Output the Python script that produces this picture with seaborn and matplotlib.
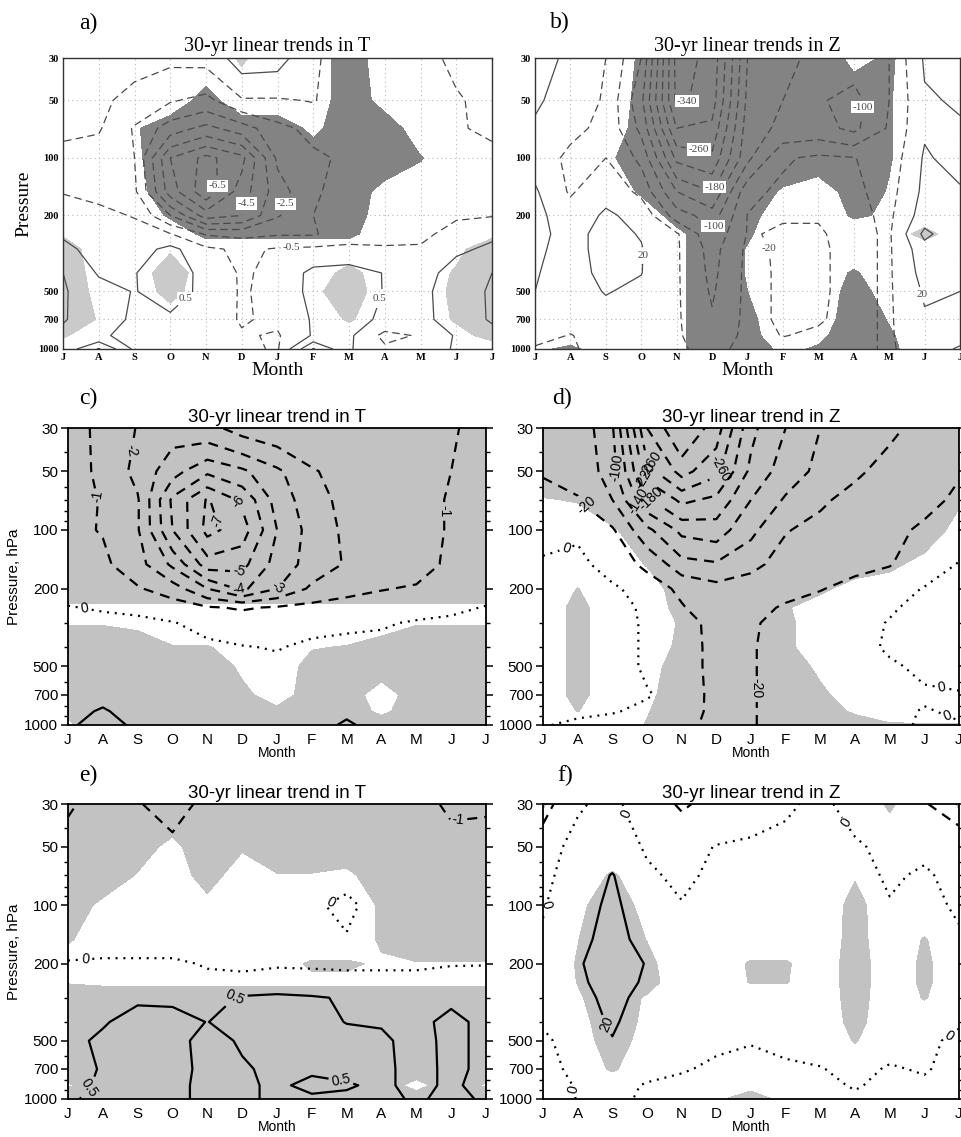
import numpy as np
import matplotlib
matplotlib.use("Agg")
import matplotlib.pyplot as plt
import seaborn as sns
from matplotlib.ticker import FixedLocator, NullFormatter, NullLocator, FuncFormatter

MONTHS = ['J', 'A', 'S', 'O', 'N', 'D', 'J', 'F', 'M', 'A', 'M', 'J', 'J']
LEVELS = [30, 50, 70, 100, 150, 200, 250, 300, 400, 500, 700, 850, 1000]
P_TICKS = [30, 50, 100, 200, 500, 700, 1000]
P_MINOR = [40, 60, 70, 80, 90, 300, 400, 600, 800, 900]

# ---- a) 30-yr linear trends in T (K), rows = LEVELS, cols = MONTHS
T_A = [
    [0.0, -0.1, -0.2, -0.3, -0.2, 1.0, 0.9, -0.3, -1.2, -0.9, -0.8, -0.3, 0.0],
    [-0.2, -0.3, -0.8, -1.4, -1.8, -0.6, -0.6, -0.45, -1.0, -0.9, -0.8, -0.6, -0.2],
    [-0.3, -0.4, -1.6, -3.0, -3.8, -3.0, -1.8, -1.2, -1.0, -1.0, -0.9, -0.6, -0.3],
    [-0.8, -1.0, -1.5, -5.5, -6.8, -5.8, -2.3, -1.7, -1.3, -1.0, -0.8, -0.7, -0.8],
    [-0.55, -0.7, -1.3, -5.0, -7.2, -5.0, -3.0, -1.6, -1.2, -0.8, -0.7, -0.6, -0.55],
    [0.0, -0.3, -0.55, -2.5, -5.0, -4.5, -2.6, -1.5, -0.9, -0.8, -0.7, -0.6, -0.55],
    [0.4, 0.0, -0.2, -0.45, -1.6, -1.8, -1.6, -1.6, -0.9, -0.8, -0.7, -0.2, 0.3],
    [0.7, 0.2, 0.0, 0.8, -0.3, -0.7, -0.4, -0.3, -0.3, -0.4, -0.4, 0.3, 0.7],
    [1.5, 0.4, 0.45, 1.2, 0.1, -0.6, -0.3, 0.8, 1.0, 0.45, 0.0, 1.0, 1.5],
    [1.6, 0.9, 0.45, 1.0, 0.2, -0.6, -0.2, 0.8, 1.1, 0.45, 0.2, 1.1, 1.6],
    [1.6, 0.8, 0.4, 0.3, 0.1, -0.6, -0.3, 0.6, 0.9, 0.3, 0.2, 1.0, 1.6],
    [1.2, 0.6, 0.3, 0.2, 0.1, -0.4, -0.6, 0.6, 0.7, -0.8, -0.4, 0.6, 1.2],
    [0.8, 2.6, 0.3, 0.4, 0.1, -0.3, -0.6, 2.6, 0.6, -0.3, 0.0, 0.6, 0.8],
]
SIG_A = [
    [0, 0, 0, 0, 0, 0.6, 0, 0, -1, 0, 0, 0, 0],
    [0, 0, 0, 0, -0.8, 0, 0, 0, -1, -0.2, 0, 0, 0],
    [0, 0, -0.4, -1, -1, -1, -1, -0.3, -1, -1, 0, 0, 0],
    [0, 0, -0.35, -1, -1, -1, -1, -1, -1, -1, -0.55, 0, 0],
    [0, 0, -0.2, -1, -1, -1, -1, -1, -1, -0.2, 0, 0, 0],
    [0, 0, 0, -0.6, -1, -1, -1, -1, -1, 0, 0, 0, 0],
    [0.4, 0, 0, 0, -0.7, -0.7, -0.7, -0.7, -0.7, 0, 0, 0, 0.3],
    [1, 0, 0, 0.4, 0, 0, 0, 0, 0, 0, 0, 0.3, 1],
    [1, 0.2, 0, 1, 0, 0, 0, 0, 0.8, 0, 0, 0.6, 1],
    [1, 0.3, 0, 0.8, 0, 0, 0, 0.3, 1, 0, 0, 0.7, 1],
    [1, 0.45, 0, 0, 0, 0, 0, 0, 0.6, 0, 0, 0.6, 1],
    [0.6, 0, 0, 0, 0, 0, 0, 0, 0, 0, 0, 0.2, 0.8],
    [0, 0, 0, 0, 0, 0, 0, 0, 0, 0, 0, 0, 0],
]

# ---- b) 30-yr linear trends in Z (m)
Z_B = [
    [30, 15, -20, -100, -355, -330, -140, -110, -90, -80, -60, 25, 30],
    [25, 5, -25, -130, -350, -320, -130, -100, -95, -115, -60, 15, 25],
    [15, -10, -30, -110, -300, -290, -120, -90, -85, -110, -55, 15, 15],
    [5, -30, -20, -70, -230, -250, -110, -25, -12, -18, -45, 25, 5],
    [25, -25, 10, -30, -140, -180, -30, -12, -8, -12, -35, 30, 25],
    [30, 0, 25, 10, -80, -120, -19, -18, -18, -10, -28, 40, 30],
    [28, 10, 30, 18, -15, -90, -18, -23, -23, -10, -25, 70, 28],
    [25, 10, 30, 22, -15, -75, -12, -25, -25, -10, -25, 45, 25],
    [22, 8, 28, 21, -15, -70, -10, -25, -25, -10, -25, 35, 22],
    [20, 5, 22, 12, -15, -65, -10, -25, -25, -10, -25, 25, 20],
    [10, -5, 5, 5, -15, -55, -10, -25, -23, -10, -25, 15, 10],
    [-5, -22, 0, 0, -15, -45, -10, -21, -15, -10, -25, 10, -5],
    [-25, -25, -5, 0, -15, -30, -10, -10, -10, -10, -25, 0, -25],
]
SIG_B = [
    [0, 0, 0, -0.6, -1, -1, -1, -1, -1, -0.3, -0.6, 0, 0],
    [0, 0, 0, -0.7, -1, -1, -1, -1, -1, -1, -0.55, 0, 0],
    [0, 0, 0, -0.8, -1, -1, -1, -1, -1, -1, -0.55, 0, 0],
    [0, 0, -0.3, -1, -1, -1, -1, -1, -1, -1, -0.55, 0, 0],
    [0, 0, 0, -0.6, -1, -1, -1, -0.4, 0, -0.9, -0.45, 0, 0],
    [0, 0, 0, 0, -0.8, -1, -0.8, 0, 0, -0.6, -0.4, 0, 0],
    [0, 0, 0, 0, -0.3, -1, -0.6, 0, 0, 0, 0, 0.8, 0],
    [0, 0, 0, 0, -0.3, -1, -0.45, 0, 0, 0, 0, 0, 0],
    [0, 0, 0, 0, -0.3, -1, -0.45, 0, 0, -0.6, 0, 0, 0],
    [0, 0, 0, 0, -0.3, -1, -0.5, 0, 0, -0.8, -0.2, 0, 0],
    [0, 0, 0, 0, -0.3, -1, -0.7, 0, 0, -1, -0.45, 0, 0],
    [0, 0, 0, 0, -0.3, -1, -0.8, 0, -0.3, -1, -0.6, 0, 0],
    [-0.3, -0.7, 0, 0, -0.3, -1, -1, -0.3, -0.6, -1, -0.7, 0, 0],
]

# ---- c) 30-yr linear trend in T
T_C = [
    [-0.5, -1.3, -2.05, -2.6, -2.3, -1.6, -1.3, -1.2, -1.1, -1.1, -1.1, -1.15, -0.5],
    [-0.6, -1.2, -2.3, -3.6, -4.8, -4.2, -3.2, -2.1, -1.6, -1.3, -1.2, -1.0, -0.6],
    [-0.7, -1.05, -1.9, -5.2, -7.1, -5.8, -3.6, -2.4, -1.7, -1.4, -1.2, -0.95, -0.7],
    [-0.8, -1.05, -1.9, -5.0, -7.3, -6.5, -4.0, -2.6, -1.8, -1.4, -1.2, -0.95, -0.8],
    [-0.6, -0.8, -1.6, -3.2, -5.5, -5.3, -3.6, -2.6, -1.9, -1.6, -1.4, -0.8, -0.6],
    [-0.4, -0.6, -0.9, -1.5, -3.0, -4.2, -3.0, -1.8, -1.3, -1.05, -0.9, -0.6, -0.4],
    [0.05, -0.1, -0.2, -0.5, -0.9, -1.1, -0.9, -0.7, -0.6, -0.5, -0.4, -0.2, 0.05],
    [0.3, 0.3, 0.2, 0.05, -0.3, -0.5, -0.6, -0.3, -0.2, -0.1, 0.1, 0.2, 0.3],
    [0.5, 0.5, 0.5, 0.4, 0.2, 0.05, -0.05, 0.2, 0.3, 0.3, 0.4, 0.5, 0.5],
    [0.6, 0.6, 0.6, 0.5, 0.4, 0.3, 0.2, 0.4, 0.5, 0.5, 0.5, 0.6, 0.6],
    [0.7, 0.7, 0.6, 0.5, 0.5, 0.4, 0.3, 0.5, 0.6, 0.6, 0.6, 0.7, 0.7],
    [0.7, 1.1, 0.6, 0.5, 0.5, 0.4, 0.3, 0.5, 0.8, 0.6, 0.6, 0.7, 0.7],
    [0.7, 1.8, 0.6, 0.5, 0.5, 0.4, 0.3, 0.6, 1.15, 0.6, 0.6, 0.7, 0.7],
]
SIG_C = [
    [1] * 13,
    [1] * 13,
    [1] * 13,
    [1] * 13,
    [1] * 13,
    [1] * 13,
    [0.35] * 13,
    [0.45, 0.45, 0.3, 0, 0, 0, 0, 0, 0, 0.2, 0.45, 0.45, 0.45],
    [1, 1, 1, 0.55, 0.55, 0.2, 0, 0.45, 0.55, 0.8, 1, 1, 1],
    [1, 1, 1, 1, 1, 0.35, 0, 0.8, 1, 1, 1, 1, 1],
    [1, 1, 1, 1, 1, 0.7, 0.1, 0.9, 1, 0, 1, 1, 1],
    [0.6, 1, 1, 1, 1, 1, 0.7, 1, 1, 0.3, 1, 1, 1],
    [0.4, 1, 1, 1, 1, 1, 1, 1, 1, 1, 1, 1, 0.4],
]

# ---- d) 30-yr linear trend in Z
Z_D = [
    [-35, -30, -95, -300, -380, -320, -190, -140, -100, -80, -65, -52, -35],
    [-22, -30, -80, -240, -315, -270, -170, -120, -90, -65, -50, -38, -22],
    [-12, -18, -60, -170, -230, -210, -140, -95, -65, -50, -40, -28, -15],
    [-5, -3, -15, -90, -150, -160, -110, -62, -50, -40, -28, -15, -8],
    [2, 5, -8, -25, -85, -95, -70, -45, -32, -25, -21, -10, 1],
    [8, 10, 3, -8, -25, -45, -40, -28, -21, -14, -8, 1, 6],
    [10, 12, 6, -3, -18, -35, -28, -17, -12, -8, -2, 5, 8],
    [10, 12, 6, -2, -5, -32, -23, -12, -9, -6, 1, 6, 8],
    [10, 12, 6, -2, -5, -30, -22, -10, -8, -5, 2, 6, 8],
    [10, 12, 6, -2, -5, -30, -22, -10, -8, -5, -2, 3, 5],
    [8, 10, 5, 1, -5, -28, -22, -10, -8, -6, -4, -2, -1],
    [5, 3, 1, -3, -6, -28, -22, -10, -8, -6, -4, 1, -2],
    [1, -3, -5, -6, -15, -25, -22, -10, -8, -6, -4, 2, 1],
]
SIG_D = [
    [1] * 13,
    [1] * 13,
    [0.45, 0.55, 1, 1, 1, 1, 1, 1, 1, 1, 1, 1, 0.6],
    [0, 0, 0.4, 1, 1, 1, 1, 1, 1, 1, 1, 1, 0.2],
    [0, 0, 0, 0.55, 1, 1, 1, 1, 1, 1, 0.7, 0.2, 0],
    [0, 0.52, 0, 0, 1, 1, 1, 1, 0.7, 0.1, 0, 0, 0],
    [0, 0.75, 0, 0, 0.8, 1, 1, 0.6, 0, 0, 0, 0, 0],
    [0, 0.75, 0, 0, 0.6, 1, 1, 0.7, 0, 0, 0, 0, 0],
    [0, 0.75, 0, 0, 0.7, 1, 1, 0.7, 0, 0, 0, 0, 0],
    [0, 0.75, 0, 0.1, 1, 1, 1, 1, 0.3, 0, 0, 0, 0],
    [0, 0.75, 0, 0.3, 1, 1, 1, 1, 0.7, 0, 0, 0, 0],
    [0, 0.52, 0, 0.45, 1, 1, 1, 1, 1, 0.35, 0, 0, 0],
    [0, 0, 0, 0.55, 1, 1, 1, 1, 1, 1, 0.6, 0.58, 0.55],
]

# ---- e) 30-yr linear trend in T
T_E = [
    [-1.1, -0.7, -0.95, -1.3, -0.8, -0.6, -0.5, -0.5, -0.5, -0.6, -0.8, -1.1, -1.1],
    [-0.7, -0.5, -0.6, -0.8, -0.5, -0.4, -0.4, -0.4, -0.4, -0.5, -0.6, -0.8, -0.7],
    [-0.5, -0.4, -0.4, -0.5, -0.4, -0.3, -0.3, -0.3, -0.2, -0.4, -0.5, -0.5, -0.5],
    [-0.4, -0.3, -0.3, -0.3, -0.3, -0.2, -0.2, -0.1, 0.15, -0.3, -0.4, -0.4, -0.4],
    [-0.3, -0.3, -0.3, -0.3, -0.3, -0.2, -0.2, -0.1, -0.05, -0.2, -0.3, -0.3, -0.3],
    [0.05, 0.1, 0.1, 0.1, -0.05, -0.1, -0.05, -0.05, -0.05, -0.05, -0.05, -0.02, -0.02],
    [0.2, 0.25, 0.25, 0.25, 0.15, 0.15, 0.2, 0.15, 0.1, 0.1, 0.1, 0.15, 0.2],
    [0.2, 0.3, 0.42, 0.42, 0.35, 0.55, 0.6, 0.55, 0.45, 0.3, 0.3, 0.35, 0.2],
    [0.3, 0.45, 0.7, 0.65, 0.49, 0.7, 0.8, 0.7, 0.48, 0.45, 0.3, 0.7, 0.3],
    [0.35, 0.6, 0.75, 0.65, 0.35, 0.55, 0.8, 0.75, 0.7, 0.6, 0.3, 0.65, 0.35],
    [0.25, 0.55, 0.8, 0.7, 0.35, 0.45, 0.6, 0.6, 0.65, 0.6, 0.35, 0.6, 0.4],
    [0.3, 0.6, 0.75, 0.7, 0.3, 0.4, 0.6, 0.35, 0.45, 0.6, 0.35, 0.6, 0.3],
    [0.45, 0.6, 0.6, 0.6, 0.4, 0.4, 0.6, 0.6, 0.6, 0.6, 0.45, 0.6, 0.45],
]
SIG_E = [
    [1] * 13,
    [1, 1, 0.8, 0.3, 1, 0.6, 1, 1, 1, 1, 1, 1, 1],
    [1, 1, 0.45, 0, 0.9, 0, 0.45, 0.45, 0.3, 1, 1, 1, 1],
    [1, 0.3, 0, 0, 0.2, 0, 0, 0, 0, 0.6, 1, 1, 1],
    [0.6, 0, 0, 0, 0, 0, 0, 0, 0, 0.6, 1, 1, 1],
    [0, 0, 0, 0, 0, 0, 0.2, 0.6, 0.6, 0.4, 0.45, 0.45, 0.45],
    [0.45] + [0.35] * 12,
    [1] * 13,
    [1] * 13,
    [1] * 13,
    [1] * 13,
    [0.4, 1, 1, 1, 1, 1, 1, 1, 1, 1, 0.2, 1, 0.4],
    [1] * 13,
]

# ---- f) 30-yr linear trend in Z
Z_F = [
    [-28, -2, 5, -12, -22, -15, -8, -2, 3, -5, -10, -19, -28],
    [-8, 6, 10, -2, -8, 1, 3, 4, 5, 2, -4, -3, -10],
    [-4, 8, 21, 3, -4, 4, 5, 5, 5, 5, -2, 2, -5],
    [-1, 10, 25, 6, 1, 6, 6, 6, 6, 7, 1, 4, -2],
    [2, 14, 28, 12, 5, 7, 8, 8, 8, 9, 6, 8, 2],
    [4, 18, 30, 19, 8, 8, 10, 9, 8, 10, 8, 10, 4],
    [4, 16, 29, 17, 8, 8, 10, 9, 8, 10, 8, 10, 4],
    [3, 12, 27, 12, 7, 8, 9, 8, 8, 9, 7, 8, 3],
    [1, 8, 23, 8, 6, 7, 8, 7, 7, 8, 5, 6, 1],
    [-2, 5, 19, 6, 4, 2, 0.5, 3, 4, 5, 4, 2, -2],
    [-4, 3, 12, 4, 1, -2, -3, -2, -0.5, 3, -1, 1, -4],
    [-6, 1, 4, -1, -3, -4, -4, -4, -3, 1, -3, -2, -6],
    [-8, 0.5, 3, -2, -4, -5, -5, -5, -4, -2, -3, -3, -8],
]
SIG_F = [
    [0.55, 0, 0, 0, 0, 0, 0, 0, 0, 0, 0.6, 0, 0.55],
    [0] * 13,
    [0, 0, 0.6, 0, 0, 0, 0, 0, 0, 0.45, 0, 0, 0],
    [0, 0.3, 1, 0.2, 0, 0, 0, 0, 0, 0.75, 0, 0, 0],
    [0, 0.48, 1, 0.48, 0, 0, 0, 0, 0, 0.8, 0, 0.55, 0],
    [0, 0.55, 1, 0.7, 0, 0, 0.6, 0.6, 0, 0.9, 0, 0.65, 0],
    [0, 0.52, 1, 0.8, 0, 0, 0.55, 0.55, 0, 0.9, 0, 0.65, 0],
    [0, 0.4, 1, 0.4, 0, 0, 0, 0, 0, 0.85, 0, 0.55, 0],
    [0, 0.2, 1, 0.3, 0, 0, 0, 0, 0, 0.75, 0, 0, 0],
    [0, 0, 1, 0.1, 0, 0, 0, 0, 0, 0.55, 0, 0, 0],
    [0, 0, 0.6, 0, 0, 0, 0, 0, 0, 0, 0, 0, 0],
    [0, 0, 0, 0, 0, 0, 0.3, 0, 0, 0, 0, 0, 0],
    [0.55, 0, 0, 0, 0, 0.4, 0.8, 0.3, 0, 0, 0, 0, 0.55],
]

TITLES = ['30-yr linear trends in T', '30-yr linear trends in Z',
          '30-yr linear trend in T', '30-yr linear trend in Z',
          '30-yr linear trend in T', '30-yr linear trend in Z']
LETTERS = ['a)', 'b)', 'c)', 'd)', 'e)', 'f)']

# ------------------------------------------------------------------ style
sns.set_theme(style="white", rc={"text.color": "black", "axes.labelcolor": "black",
                                 "xtick.color": "black", "ytick.color": "black"})
plt.rcParams['font.family'] = ['Liberation Sans', 'DejaVu Sans']
SERIF = ['Liberation Serif', 'DejaVu Serif']
SANS = ['Liberation Sans', 'DejaVu Sans']

W, H = 961, 1137
fig = plt.figure(figsize=(W / 100, H / 100), dpi=100)


def axes_px(left, top, right, bottom):
    return fig.add_axes([left / W, 1 - bottom / H, (right - left) / W, (bottom - top) / H])


X = np.arange(len(MONTHS))
Y = np.array(LEVELS, dtype=float)


def panel(ax, field, sig, levels, fmt, label_pos, grads):
    Z = np.array(field, dtype=float)
    S = np.array(sig, dtype=float)
    ax.set_yscale('log')
    if grads:
        ax.set_axisbelow(True)
        ax.grid(True, which='major', ls=(0, (1, 3)), color='#b8b8b8', lw=0.8)
        ax.contourf(X, Y, S, levels=[-5, -0.5], colors=['#838383'])
        ax.contourf(X, Y, S, levels=[0.5, 5], colors=['#cacaca'])
        col, lw, dash, dot = '#4a4a4a', 0.9, (0, (6, 3.5)), (0, (1, 2))
    else:
        ax.contourf(X, Y, S, levels=[0.5, 5], colors=['#c2c2c2'])
        col, lw, dash, dot = 'black', 1.6, (0, (4.5, 3.2)), (0, (0.9, 2.6))
    styles = [dash if l < 0 else (dot if l == 0 else 'solid') for l in levels]
    cs = ax.contour(X, Y, Z, levels=levels, colors=col, linewidths=lw, linestyles=styles)
    if grads:
        txts = ax.clabel(cs, fmt=fmt, manual=label_pos, inline=True, inline_spacing=2,
                         fontsize=8)
        for t in txts:
            t.set_rotation(0)
            t.set_family(SERIF)
            t.set_bbox(dict(boxstyle='square,pad=0.15', fc='white', ec='none'))
    else:
        txts = ax.clabel(cs, fmt=fmt, manual=label_pos, inline=True, inline_spacing=3,
                         fontsize=10)
        for t in txts:
            t.set_family(SANS)
    ax.set_ylim(1000, 30)
    ax.set_xlim(0, 12)
    ax.yaxis.set_major_locator(FixedLocator(P_TICKS))
    ax.yaxis.set_major_formatter(FuncFormatter(lambda v, p: f'{v:g}'))
    ax.set_xticks(X)
    ax.set_xticklabels(MONTHS)
    if grads:
        ax.yaxis.set_minor_locator(NullLocator())
        ax.tick_params(axis='both', which='major', direction='in', length=3, width=0.8,
                       labelsize=7.5, pad=3)
        for t in ax.get_xticklabels() + ax.get_yticklabels():
            t.set_family(SERIF)
            t.set_fontweight('bold')
        for s in ax.spines.values():
            s.set_linewidth(1.0)
            s.set_color('#333333')
    else:
        ax.yaxis.set_minor_locator(FixedLocator(P_MINOR))
        ax.yaxis.set_minor_formatter(NullFormatter())
        ax.tick_params(axis='y', which='major', direction='out', length=5, width=1.1,
                       left=True, right=True, labelsize=11, pad=2)
        ax.tick_params(axis='y', which='minor', direction='out', length=3, width=1.0,
                       left=True, right=True)
        ax.tick_params(axis='x', which='major', length=0, labelsize=11, pad=6)
        for s in ax.spines.values():
            s.set_linewidth(1.3)
            s.set_color('black')
    return cs


fmt1 = lambda v: f'{v:.1f}'
fmt0 = lambda v: f'{v:.0f}'
fmtg = lambda v: f'{v:g}'

boxes = [(63, 58, 492, 349), (535, 58, 960, 349),
         (68, 428, 486, 725), (543, 428, 959, 725),
         (68, 804, 486, 1099), (543, 804, 959, 1099)]

# a
ax = axes_px(*boxes[0])
panel(ax, T_A, SIG_A, np.arange(-7.5, 3.0, 1.0), fmt1,
      [(4.4, 140), (5.2, 175), (6.25, 175), (6.4, 290), (3.4, 540), (8.7, 530)], True)
ax.set_title(TITLES[0], family=SERIF, fontsize=14.5, pad=5)
ax.set_ylabel('Pressure', family=SERIF, fontsize=14, labelpad=4)
ax.set_xlabel('Month', family=SERIF, fontsize=14, labelpad=0)

# b
ax = axes_px(*boxes[1])
panel(ax, Z_B, SIG_B, np.arange(-380, 100, 40), fmt0,
      [(4.45, 57), (4.6, 97), (5.0, 140), (5.05, 228), (6.7, 290), (2.5, 320),
       (9.55, 55), (10.7, 530)], True)
ax.set_title(TITLES[1], family=SERIF, fontsize=14.5, pad=5)
ax.set_xlabel('Month', family=SERIF, fontsize=14, labelpad=0)

# c
ax = axes_px(*boxes[2])
panel(ax, T_C, SIG_C, np.array([-8, -7, -6, -5, -4, -3, -2, -1, 0, 1]), fmtg,
      [(1.2, 65), (2.2, 40), (4.7, 75), (4.4, 88), (4.9, 180), (4.9, 198),
       (6.0, 195), (0.5, 245), (10.9, 80)], False)
ax.set_title(TITLES[2], family=SANS, fontsize=13.5, pad=4)
ax.set_ylabel('Pressure, hPa', family=SANS, fontsize=11, labelpad=2)
ax.set_xlabel('Month', family=SANS, fontsize=10, labelpad=-1)

# d
ax = axes_px(*boxes[3])
panel(ax, Z_D, SIG_D, np.append(np.arange(-380, 0, 40), 0), fmtg,
      [(1.9, 48), (3.2, 45), (3.0, 52), (3.1, 70), (2.7, 72), (1.25, 75), (4.9, 47),
       (6.25, 650), (0.6, 115), (11.5, 630), (11.6, 950)], False)
ax.set_title(TITLES[3], family=SANS, fontsize=13.5, pad=4)
ax.set_xlabel('Month', family=SANS, fontsize=10, labelpad=-1)

# e
ax = axes_px(*boxes[4])
panel(ax, T_E, SIG_E, np.array([-2, -1, 0, 0.5, 1]), fmtg,
      [(11.2, 36), (0.5, 190), (7.6, 100), (4.8, 300), (0.6, 870), (7.85, 780)], False)
ax.set_title(TITLES[4], family=SANS, fontsize=13.5, pad=4)
ax.set_ylabel('Pressure, hPa', family=SANS, fontsize=11, labelpad=2)
ax.set_xlabel('Month', family=SANS, fontsize=10, labelpad=-1)

# f
ax = axes_px(*boxes[5])
panel(ax, Z_F, SIG_F, np.array([-60, -20, 0, 20, 60]), fmtg,
      [(2.5, 33), (0.3, 102), (9.0, 35), (1.6, 430), (0.95, 890), (11.8, 500)], False)
ax.set_title(TITLES[5], family=SANS, fontsize=13.5, pad=4)
ax.set_xlabel('Month', family=SANS, fontsize=10, labelpad=-1)

for (x, y), s in zip([(88, 23), (560, 22), (88, 398), (562, 398), (88, 775), (565, 775)],
                     LETTERS):
    fig.text(x / W, 1 - y / H, s, family=SERIF, fontsize=17, ha='center', va='center')

fig.savefig('out.png', dpi=100)
